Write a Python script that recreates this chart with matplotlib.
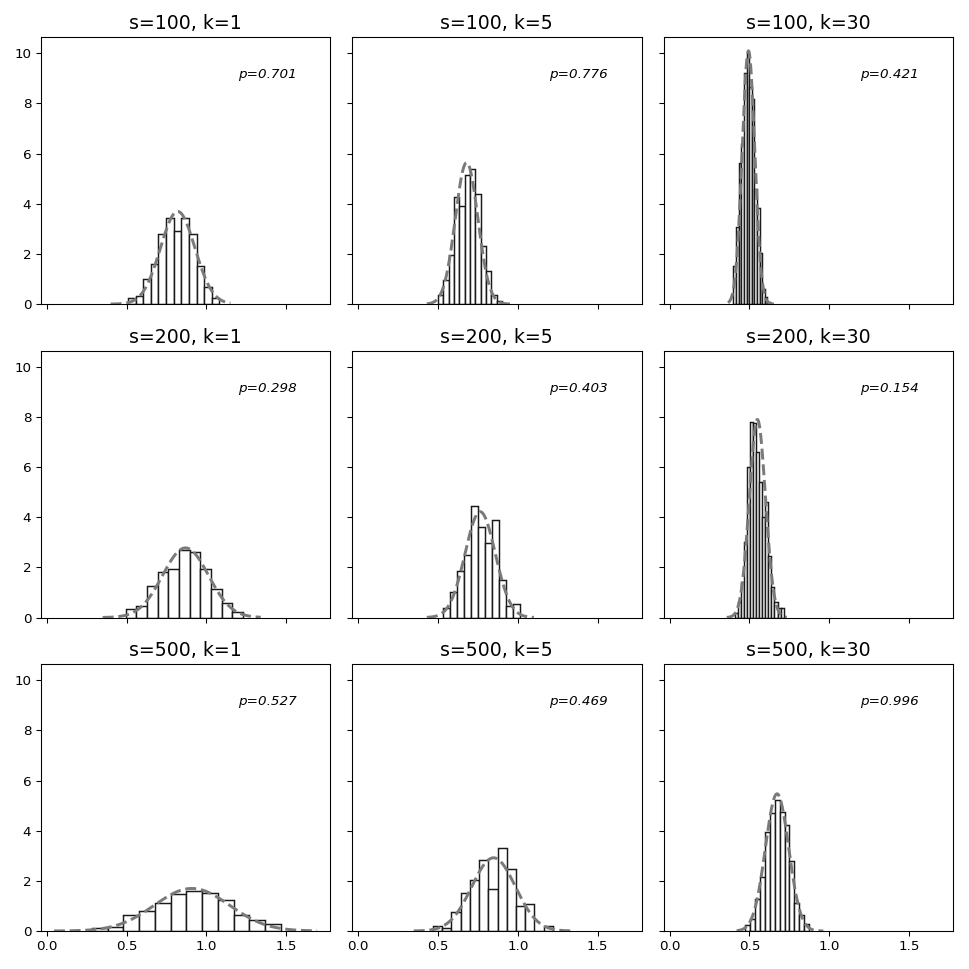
import numpy as np
import matplotlib
matplotlib.use("Agg")
import matplotlib.pyplot as plt

# panel titles and p-values (row-major: s=100,200,500 ; k=1,5,30)
sizes = [100, 200, 500]
ks = [1, 5, 30]
p_values = [[0.701, 0.776, 0.421],
            [0.298, 0.403, 0.154],
            [0.527, 0.469, 0.996]]

# histogram bins: first edge, bin width, bar heights (density)
bin_start = [[0.508, 0.499, 0.400],
             [0.494, 0.531, 0.410],
             [0.282, 0.469, 0.471]]
bin_width = [[0.0478, 0.0334, 0.0164],
             [0.0667, 0.0436, 0.0190],
             [0.0987, 0.0577, 0.0311]]
h_100_1 = [0.25, 0.32, 1.0, 1.6, 2.79, 3.45, 2.93, 3.45, 2.79, 1.52, 0.67, 0.24]
h_100_5 = [0.36, 0.96, 1.94, 4.26, 3.90, 5.13, 5.37, 4.40, 2.30, 1.33, 0.36, 0.12]
h_100_30 = [1.52, 3.07, 5.63, 6.4, 9.23, 10.0, 8.67, 8.19, 4.59, 3.84, 2.05, 0.59, 0.27, 0.1]
h_200_1 = [0.36, 0.48, 1.27, 1.81, 1.93, 2.71, 2.6, 1.93, 1.13, 0.6, 0.24]
h_200_5 = [0.37, 1.0, 1.85, 2.49, 4.45, 3.6, 2.96, 3.88, 1.49, 0.45, 0.53]
h_200_30 = [0.2, 0.62, 1.4, 3.0, 6.0, 7.8, 7.77, 6.6, 5.4, 4.0, 4.6, 2.46, 1.22, 0.62, 0.4, 0.4]
h_500_1 = [0.12, 0.15, 0.63, 0.81, 1.13, 1.48, 1.61, 1.53, 1.23, 0.63, 0.44, 0.27]
h_500_5 = [0.2, 0.13, 0.76, 1.52, 2.03, 2.85, 1.67, 3.33, 2.49, 1.01, 1.09, 0.0, 0.2]
h_500_30 = [0.23, 0.49, 1.27, 2.16, 3.96, 4.7, 5.23, 4.73, 4.23, 2.8, 1.12, 0.63, 0.27]
heights = [[h_100_1, h_100_5, h_100_30],
           [h_200_1, h_200_5, h_200_30],
           [h_500_1, h_500_5, h_500_30]]

# fitted normal curves: mean, sd, x-range of the dashed line
fit_mu = [[0.82, 0.679, 0.494],
          [0.869, 0.764, 0.550],
          [0.909, 0.848, 0.673]]
fit_sd = [[0.108, 0.0707, 0.0395],
          [0.1436, 0.0945, 0.0505],
          [0.235, 0.1366, 0.0729]]
curve_lo = [[0.40, 0.43, 0.366],
            [0.35, 0.43, 0.358],
            [0.045, 0.348, 0.42]]
curve_hi = [[1.15, 0.97, 0.66],
            [1.34, 1.10, 0.734],
            [1.693, 1.35, 0.963]]

xticks = [0.0, 0.5, 1.0, 1.5]
yticks = [0, 2, 4, 6, 8, 10]

fig, axes = plt.subplots(3, 3, figsize=(10, 10), dpi=96.9, sharex=True, sharey=True)
fig.subplots_adjust(left=0.042, right=0.9835, top=0.9615, bottom=0.0392,
                    wspace=0.0757, hspace=0.175)

for i in range(3):
    for j in range(3):
        ax = axes[i, j]
        h = np.array(heights[i][j])
        edges = bin_start[i][j] + bin_width[i][j] * np.arange(len(h) + 1)
        ax.bar(edges[:-1], h, width=np.diff(edges), align='edge',
               facecolor='white', edgecolor='#1a1a1a', linewidth=1.1)
        xs = np.linspace(curve_lo[i][j], curve_hi[i][j], 200)
        mu, sd = fit_mu[i][j], fit_sd[i][j]
        pdf = np.exp(-0.5 * ((xs - mu) / sd) ** 2) / (sd * np.sqrt(2 * np.pi))
        ax.plot(xs, pdf, linestyle='--', color='#7a7a7a', linewidth=2.2)
        ax.set_title(f"s={sizes[i]}, k={ks[j]}", fontsize=14)
        ax.text(0.68, 0.86, f"p={p_values[i][j]:.3f}", transform=ax.transAxes,
                ha='left', va='center', fontsize=10, style='italic')

axes[0, 0].set_xlim(-0.038, 1.775)
axes[0, 0].set_ylim(0, 10.64)
axes[0, 0].set_xticks(xticks)
axes[0, 0].set_yticks(yticks)
for ax in axes.flat:
    ax.tick_params(labelsize=10)

fig.savefig("out.png", dpi=96.9)
